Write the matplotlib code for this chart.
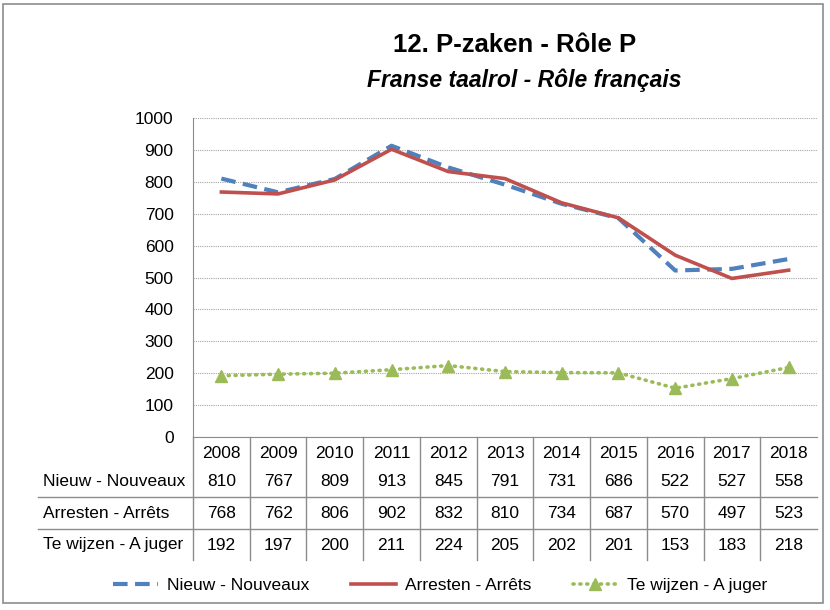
import matplotlib
matplotlib.use("Agg")
import matplotlib.pyplot as plt
from matplotlib.patches import Rectangle
import matplotlib.transforms as mtransforms

plt.rcParams['font.family'] = ['Liberation Sans Narrow', 'Liberation Sans', 'DejaVu Sans']

years = ['2008', '2009', '2010', '2011', '2012', '2013', '2014', '2015', '2016', '2017', '2018']
nieuw = [810, 767, 809, 913, 845, 791, 731, 686, 522, 527, 558]
arresten = [768, 762, 806, 902, 832, 810, 734, 687, 570, 497, 523]
te_wijzen = [192, 197, 200, 211, 224, 205, 202, 201, 153, 183, 218]
series_names = ['Nieuw - Nouveaux', 'Arresten - Arrêts', 'Te wijzen - A juger']
yticks = [0, 100, 200, 300, 400, 500, 600, 700, 800, 900, 1000]
title = '12. P-zaken - Rôle P'
subtitle = 'Franse taalrol - Rôle français'

fig = plt.figure(figsize=(8.3, 6.1), dpi=100)
fig.patches.append(Rectangle((0.004, 0.012), 0.988, 0.982, transform=fig.transFigure,
                             fill=False, edgecolor='#8c8c8c', lw=1.2))

ax = fig.add_axes([193/830, 1-437/610, (817-193)/830, (437-118)/610])
x = list(range(len(years)))
ax.plot(x, nieuw, color='#4F81BD', lw=3, dashes=(3.5, 1.8), label=series_names[0], zorder=3)
ax.plot(x, arresten, color='#C0504D', lw=2.6, label=series_names[1], zorder=4)
ax.plot(x, te_wijzen, color='#9BBB59', lw=2.6, linestyle=(0, (0.3, 1.6)), dash_capstyle='round',
        marker='^', markersize=9, label=series_names[2], zorder=3)

ax.set_xlim(-0.5, len(years) - 0.5)
ax.set_ylim(0, 1000)
ax.set_yticks(yticks)
ax.set_yticklabels([str(v) for v in yticks], fontsize=12.5)
ax.yaxis.grid(True, color='#a6a6a6', linestyle=(0, (1, 1)), lw=0.8)
ax.set_axisbelow(True)
ax.tick_params(axis='y', length=0, pad=14)
ax.set_xticks([])
for s in ['top', 'right']:
    ax.spines[s].set_visible(False)
ax.spines['left'].set_color('#8c8c8c')
ax.spines['bottom'].set_color('#8c8c8c')

# data table
trans = mtransforms.blended_transform_factory(ax.transData, ax.transAxes)
ph = 437 - 118
def ay(py):
    return (437 - py) / ph

row_y = [ay(454), ay(482), ay(513), ay(545)]
for i, yr in enumerate(years):
    ax.text(i, row_y[0], yr, transform=trans, ha='center', va='center', fontsize=12.5, clip_on=False)
for r, vals in enumerate([nieuw, arresten, te_wijzen]):
    for i, v in enumerate(vals):
        ax.text(i, row_y[r + 1], str(v), transform=trans, ha='center', va='center', fontsize=12.5, clip_on=False)
    fig.text(43/830, 1 - [482, 513, 545][r]/610, series_names[r], ha='left', va='center', fontsize=12.5)

for i in range(len(years) - 1):
    ax.plot([i + 0.5, i + 0.5], [0, ay(560)], transform=trans, color='#8c8c8c', lw=1, clip_on=False)
ax.plot([-0.5, -0.5], [0, ay(560)], transform=trans, color='#8c8c8c', lw=1, clip_on=False)
for py in [497, 529]:
    fig.add_artist(plt.Line2D([38/830, 817/830], [1 - py/610, 1 - py/610], transform=fig.transFigure,
                              color='#8c8c8c', lw=1))

fig.text(515/830, 1 - 45/610, title, ha='center', va='center', fontsize=18.5, fontweight='bold')
fig.text(524/830, 1 - 80/610, subtitle, ha='center', va='center', fontsize=16.5,
         fontweight='bold', fontstyle='italic')

fig.legend(loc='center', bbox_to_anchor=(440/830, 1 - 585/610), ncol=3, frameon=False,
           fontsize=12.5, handlelength=2.6, columnspacing=2.4, handletextpad=0.5)

fig.savefig('out.png', dpi=100)
